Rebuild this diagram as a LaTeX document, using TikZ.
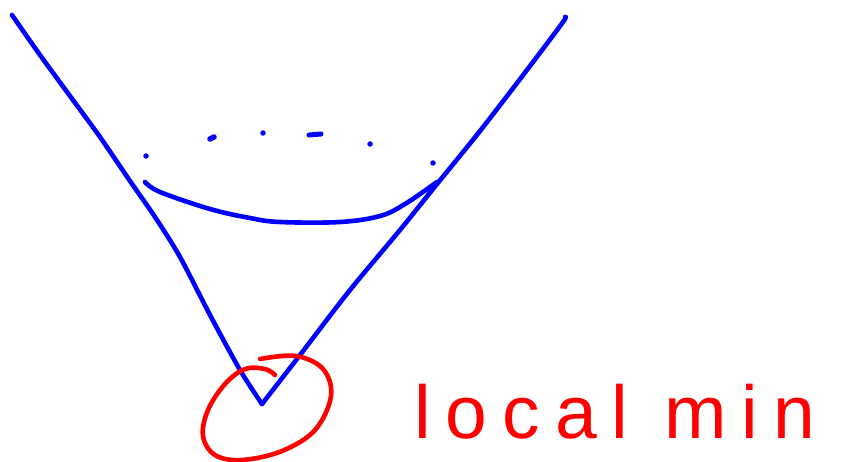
\documentclass[tikz,border=0pt]{standalone}
\usepackage{fontspec}
\setmainfont{Liberation Sans}
\begin{document}
\begin{tikzpicture}[x=1pt,y=-1pt,
  bluestroke/.style={draw=blue, line width=4.6pt, line cap=round, line join=round},
  redstroke/.style={draw=red, line width=4.6pt, line cap=round, line join=round},
  dotmark/.style={fill=blue, circle, inner sep=0pt, minimum size=5.5pt}]
\useasboundingbox (0,0) rectangle (842,462);
% V shape
\coordinate (top1) at (12,15);
\coordinate (vtx) at (262,404);
\coordinate (top2) at (565,17);
\draw[bluestroke] plot[smooth, tension=0.5] coordinates {(12,15) (40,55) (70,96) (100,137) (130,181) (155,217) (180,257) (210,315) (240,370) (262,404)};
\draw[bluestroke] plot[smooth, tension=0.5] coordinates {(262,404) (300,355) (350,290) (400,230) (437,184) (480,131) (530,66) (563,22) (565,17)};
% inner curve
\draw[bluestroke] plot[smooth, tension=0.6] coordinates {(145,182) (160,192) (210,209) (250,218) (280,222) (340,222) (380,216) (405,204) (437,182)};
% dots
\node[dotmark] (d1) at (146,156) {};
\draw[bluestroke, line width=5.5pt] (210,139) -- (214,137);
\node[dotmark] (d3) at (263,133) {};
\draw[bluestroke, line width=5pt] (309,135) -- (321,134);
\node[dotmark] (d5) at (370,144) {};
\node[dotmark] (d6) at (433,163) {};
% red circle
\draw[redstroke] plot[smooth, tension=0.6] coordinates {(275,375) (265,369) (245,369) (225,384) (208,410) (203,436) (215,455) (242,460) (282,451) (315,430) (331,396) (323,369) (296,356) (260,359)};
% label
\node[red, anchor=base west, inner sep=0pt] (lbl) at (414,438) {\fontsize{75}{75}\selectfont\addfontfeature{LetterSpace=20}local min};
\end{tikzpicture}
\end{document}
